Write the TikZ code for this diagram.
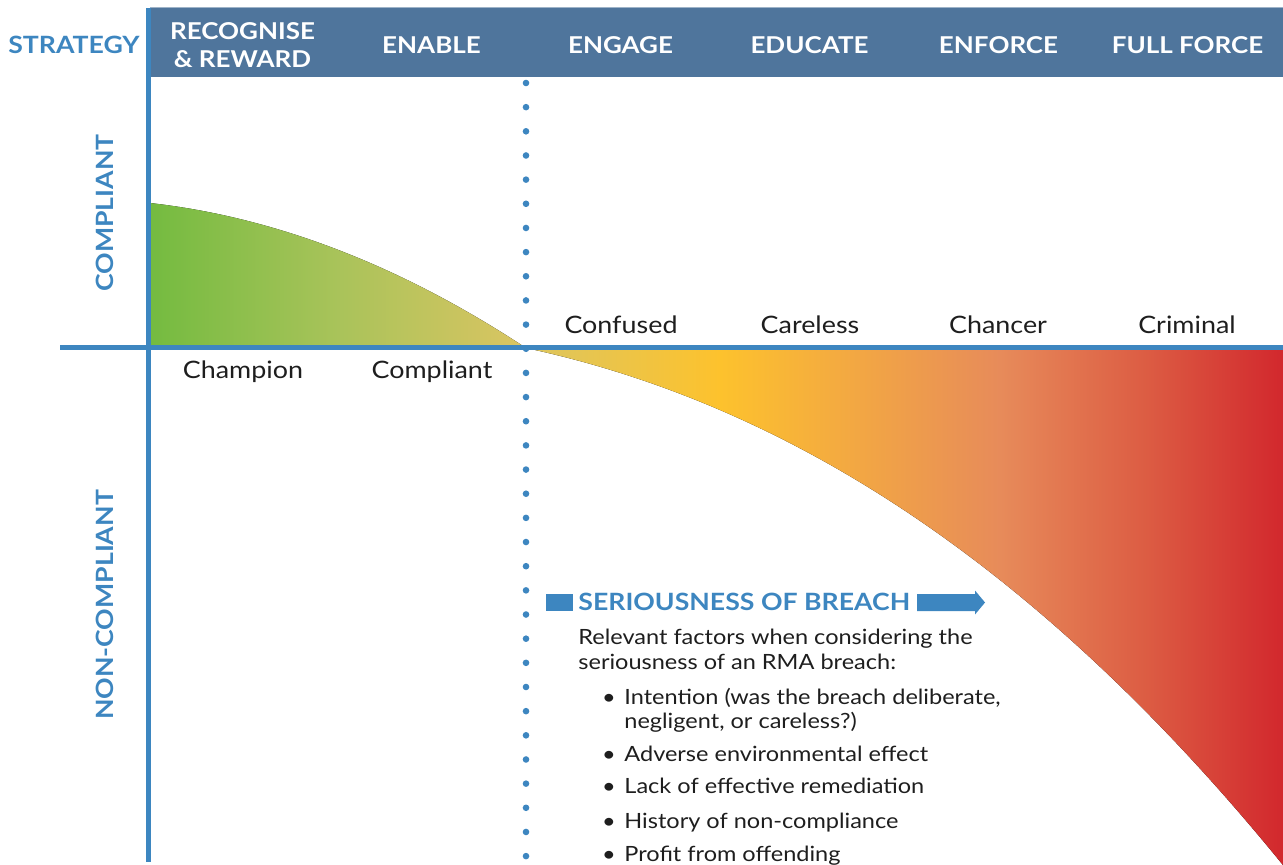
\documentclass[tikz,border=0pt]{standalone}
\usepackage{fontspec}
\setmainfont{Lato}[FakeStretch=1.12]
\usepackage{tikz}

\definecolor{barblue}{HTML}{4F759C}
\definecolor{axisblue}{HTML}{3D86C0}
\definecolor{inkgrey}{HTML}{1E1E1E}
% colours of the two shaded areas
\definecolor{goodA}{HTML}{74BB40}
\definecolor{goodB}{HTML}{A9C35A}
\definecolor{goodC}{HTML}{DBC562}
\definecolor{badA}{HTML}{DCC660}
\definecolor{badB}{HTML}{FDC22D}
\definecolor{badC}{HTML}{E78B5A}
\definecolor{badD}{HTML}{DC5C43}
\definecolor{badE}{HTML}{D2282D}

\pgfdeclarehorizontalshading{goodshade}{100bp}{color(0bp)=(goodA); color(25bp)=(goodA); color(50bp)=(goodB); color(75bp)=(goodC); color(100bp)=(goodC)}
\pgfdeclarehorizontalshading{badshade}{100bp}{color(0bp)=(badA); color(25bp)=(badA); color(37.8bp)=(badB); color(56.3bp)=(badC); color(66bp)=(badD); color(75bp)=(badE); color(100bp)=(badE)}

\tikzset{
  headtext/.style={text=white, font=\fontsize{11.6}{14}\selectfont\bfseries, align=center},
  sidetext/.style={text=axisblue, font=\fontsize{11.9}{14}\selectfont\bfseries},
  labeltext/.style={text=inkgrey, font=\fontsize{12}{14}\selectfont, inner sep=0pt},
  bodytext/.style={text=inkgrey, font=\fontsize{10.5}{12}\selectfont, inner sep=0pt},
  axisline/.style={axisblue, line width=2.5pt},
}

\begin{document}
\begin{tikzpicture}[x=0.5pt,y=-0.5pt]
\useasboundingbox (0,0) rectangle (1283,865);

% shaded areas
\fill[shading=goodshade] (150,348) -- plot[domain=150:526,samples=60,smooth,variable=\x]
  ({\x},{203+11.26*(\x-150)/100+7.26*((\x-150)/100)^2}) -- cycle;
\fill[shading=badshade] (526,348) -- plot[domain=526:1283,samples=90,smooth,variable=\x]
  ({\x},{348+21.46*(\x-526)/100+5.147*((\x-526)/100)^2+0.1376*((\x-526)/100)^3}) -- (1283,348) -- cycle;

% strategy bar
\fill[barblue] (150,8) rectangle (1283,77);
\draw[barblue!55, line width=0.5pt] (150,8) -- (1283,8);
\node[sidetext, anchor=base] (strategy) at (74,53.3) {STRATEGY};
\foreach \t [count=\i] in {{RECOGNISE\\\& REWARD},ENABLE,ENGAGE,EDUCATE,ENFORCE,FULL FORCE}
  \node[headtext, anchor=center] (head\i) at ({242.5+189*(\i-1)},45) {\t};

% axes
\draw[axisline] (148,8) -- (148,862);
\draw[axisline] (60,348) -- (1283,348);
\foreach \k in {0,...,32}
  \fill[axisblue] (526,{83+24.16*\k}) circle (3.3);

\node[sidetext, rotate=90] (compliant) at (105,213) {COMPLIANT};
\node[sidetext, rotate=90] (noncompliant) at (105,605) {NON-COMPLIANT};

% behaviour labels
\node[labeltext, anchor=base] (confused) at (621,334) {Confused};
\node[labeltext, anchor=base] (careless) at (810,334) {Careless};
\node[labeltext, anchor=base] (chancer) at (998,334) {Chancer};
\node[labeltext, anchor=base] (criminal) at (1187,334) {Criminal};
\node[labeltext, anchor=base] (champion) at (243,379) {Champion};
\node[labeltext, anchor=base] (complier) at (432,379) {Compliant};

% seriousness of breach
\fill[axisblue] (546,594) rectangle (573,611);
\node[sidetext, anchor=base west, inner sep=0pt] (breach) at (578,610.7) {SERIOUSNESS OF BREACH};
\fill[axisblue] (917,594) -- (975,594) -- (975,590.5) -- (985,602.5) -- (975,614.5) -- (975,611) -- (917,611) -- cycle;

\node[bodytext, anchor=base west] (intro1) at (578,644) {Relevant factors when considering the};
\node[bodytext, anchor=base west] (intro2) at (578,669.3) {seriousness of an RMA breach:};
\foreach \y/\t [count=\i] in {704/{Intention (was the breach deliberate,},761/{Adverse environmental effect},793.3/{Lack of effective remediation},828/{History of non-compliance},861.7/{Profit from offending}} {
  \node[bodytext, anchor=base] (dot\i) at (609,\y) {•};
  \node[bodytext, anchor=base west] (factor\i) at (624,\y) {\t};
}
\node[bodytext, anchor=base west] (factor1b) at (624,728) {negligent, or careless?)};
\end{tikzpicture}
\end{document}
